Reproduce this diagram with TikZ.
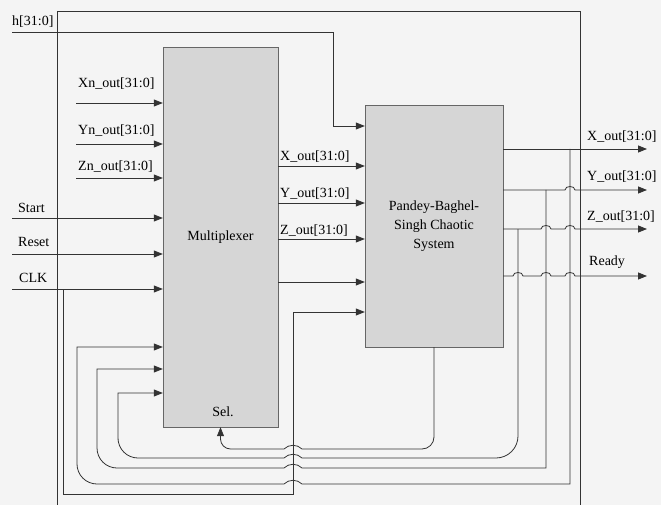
\documentclass[tikz,border=0pt]{standalone}
\usepackage{fontspec}
\setmainfont{Liberation Serif}
\usetikzlibrary{arrows.meta,positioning,calc}
\definecolor{wirecol}{HTML}{333333}
\definecolor{boxfill}{HTML}{D6D6D6}
\definecolor{paper}{HTML}{F4F4F4}

\begin{document}
\begin{tikzpicture}[
  x=1pt, y=-1pt,
  block/.style={draw=black!60, fill=boxfill, inner sep=0pt, align=center,
    font=\fontsize{14}{19}\selectfont},
  lbl/.style={anchor=base west, inner sep=0pt, font=\fontsize{14}{16}\selectfont},
  wire/.style={wirecol, line width=0.8pt},
  sig/.style={wire, -{Triangle[length=9pt,width=7pt]}},
  jumpr/.style={out=90, in=90, looseness=1.2},
  jumpl/.style={out=135, in=45}
]
\fill[paper] (0,0) rectangle (661,505);
\useasboundingbox (0,0) rectangle (661,505);

% blocks
\node[block, minimum width=115, minimum height=380] (mux) at (220.5,237) {Multiplexer};
\node[block, minimum width=138, minimum height=242] (pbs) at (434,226)
  {Pandey-Baghel-\\Singh Chaotic\\System};
\node[lbl, anchor=base] (sel) at (223,416) {Sel.};

% outer frame
\draw[wire] (57,505) -- (57,11) -- (580,11) -- (580,505);

% free ends
\coordinate (hin) at (12,32);
\coordinate (hturn) at (333,126);
\coordinate (xnin) at (76,103);
\coordinate (ynin) at (76,144);
\coordinate (znin) at (76,178);
\coordinate (startin) at (12,218);
\coordinate (resetin) at (12,254);
\coordinate (clkin) at (12,289);
\coordinate (clktap) at (63,289);
\coordinate (xo) at (647,149);
\coordinate (yo) at (647,190);
\coordinate (zo) at (647,229);
\coordinate (rdy) at (647,276);
\coordinate (xtap) at (570,149);
\coordinate (ytap) at (546,190);
\coordinate (ztap) at (518,229);

% labels
\node[lbl] (hlbl) at (12,26) {h[31:0]};
\node[lbl] (xnlbl) at (78,88) {Xn\_out[31:0]};
\node[lbl] (ynlbl) at (78,135) {Yn\_out[31:0]};
\node[lbl] (znlbl) at (78,171) {Zn\_out[31:0]};
\node[lbl] (stlbl) at (18,212) {Start};
\node[lbl] (rslbl) at (18,247) {Reset};
\node[lbl] (cklbl) at (19,282) {CLK};
\node[lbl] (xmlbl) at (280,161) {X\_out[31:0]};
\node[lbl] (ymlbl) at (280,197) {Y\_out[31:0]};
\node[lbl] (zmlbl) at (280,234) {Z\_out[31:0]};
\node[lbl] (xolbl) at (587,141) {X\_out[31:0]};
\node[lbl] (yolbl) at (587,181) {Y\_out[31:0]};
\node[lbl] (zolbl) at (587,221) {Z\_out[31:0]};
\node[lbl] (rdylbl) at (589,265) {Ready};

% inputs to multiplexer
\draw[sig] (hin) -| (hturn) -- (hturn -| pbs.west);
\draw[sig] (xnin) -- (xnin -| mux.west);
\draw[sig] (ynin) -- (ynin -| mux.west);
\draw[sig] (znin) -- (znin -| mux.west);
\draw[sig] (startin) -- (startin -| mux.west);
\draw[sig] (resetin) -- (resetin -| mux.west);
\draw[sig] (clkin) -- (clkin -| mux.west);

% multiplexer to chaotic system
\draw[sig] (mux.east |- 0,166) -- (pbs.west |- 0,166);
\draw[sig] (mux.east |- 0,203) -- (pbs.west |- 0,203);
\draw[sig] (mux.east |- 0,239) -- (pbs.west |- 0,239);
\draw[sig] (mux.east |- 0,282) -- (pbs.west |- 0,282);
\draw[sig] (clktap) -- (63,494) -- (293,494) -- (293,312) -- (pbs.west |- 0,312);

% outputs
\draw[sig] (pbs.east |- xo) -- (xo);
\draw[sig] (pbs.east |- yo) -- (565,190) to[jumpr] (575,190) -- (yo);
\draw[sig] (pbs.east |- zo) -- (541,229) to[jumpr] (551,229) -- (565,229)
  to[jumpr] (575,229) -- (zo);
\draw[sig] (pbs.east |- rdy) -- (513,276) to[jumpr] (523,276) -- (541,276)
  to[jumpr] (551,276) -- (565,276) to[jumpr] (575,276) -- (rdy);

% feedback
\draw[sig] (xtap) -- (570,484) -- (302,484) to[jumpl] (284,484) -- (200,484)
  [rounded corners=20pt] -- (77,484) -- (77,420) [sharp corners] -- (77,347)
  -- (mux.west |- 0,347);
\draw[sig] (ytap) -- (546,468) -- (302,468) to[jumpl] (284,468) -- (200,468)
  [rounded corners=20pt] -- (97,468) -- (97,420) [sharp corners] -- (97,369)
  -- (mux.west |- 0,369);
\draw[sig] (ztap) [rounded corners=22pt] -- (518,458) -- (420,458) [sharp corners]
  -- (302,458) to[jumpl] (284,458) -- (200,458)
  [rounded corners=20pt] -- (118,458) -- (118,420) [sharp corners] -- (118,393)
  -- (mux.west |- 0,393);
\draw[sig] (pbs.south) [rounded corners=12pt] -- (pbs.south |- 0,449) -- (380,449)
  [sharp corners] -- (302,449) to[jumpl] (284,449) -- (250,449)
  [rounded corners=10pt] -- (mux.south |- 0,449) -- (mux.south);

\end{tikzpicture}
\end{document}
